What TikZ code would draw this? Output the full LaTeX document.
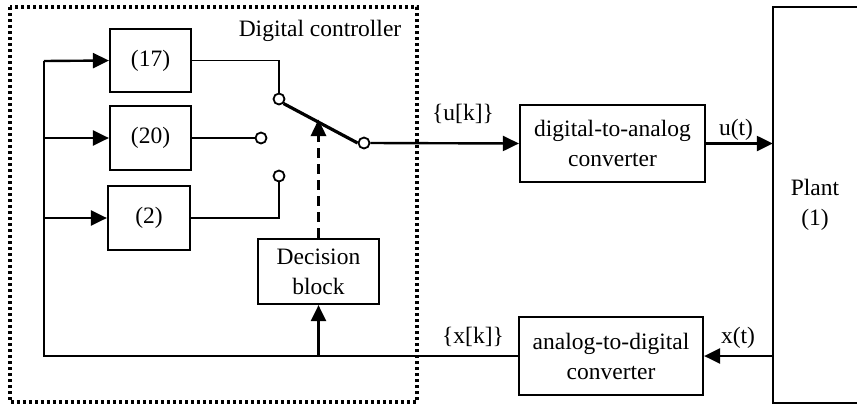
\documentclass[tikz,border=0pt]{standalone}
\usepackage{fontspec}
\setmainfont{Liberation Serif}
\usetikzlibrary{arrows.meta,calc}
\begin{document}
\begin{tikzpicture}[x=1pt,y=-1pt,
  font=\fontsize{23.5}{30}\selectfont,
  blk/.style={draw,line width=2.2pt,inner sep=0pt,align=center},
  wire/.style={line width=1.8pt},
  sig/.style={line width=2.4pt,-{Triangle[length=16pt,width=15pt]}},
  pin/.style={circle,draw,line width=1.8pt,fill=white,minimum size=11pt,inner sep=0pt},
  lbl/.style={anchor=base,inner sep=0pt}]
\useasboundingbox (0,0) rectangle (857,405);
% frame
\draw[line width=3.4pt,dash pattern=on 3.2pt off 2.8pt] (10,7) rectangle (417,402);
\node[lbl] (dctitle) at (320,36) {Digital controller};
% blocks
\node[blk,minimum width=81pt,minimum height=63pt] (b17) at (150.5,60.5) {(17)};
\node[blk,minimum width=81pt,minimum height=64pt] (b20) at (150.5,138) {(20)};
\node[blk,minimum width=82pt,minimum height=64pt] (b2) at (149,218) {(2)};
\node[blk,minimum width=121pt,minimum height=65pt] (dec) at (318.5,271.5) {Decision\\block};
\node[blk,minimum width=185pt,minimum height=77pt] (dac) at (612.5,143.5) {digital-to-analog\\converter};
\node[blk,minimum width=184pt,minimum height=78pt] (adc) at (611,356) {analog-to-digital\\converter};
\node[inner sep=0pt,minimum width=84pt,minimum height=396pt,align=center] (plant) at (815,205) {Plant\\(1)};
\draw[line width=2.2pt] (plant.north east) -- (plant.north west) -- (plant.south west) -- (plant.south east);
% bus
\coordinate (busT) at (44,61);
\coordinate (bus20) at (44,138);
\coordinate (bus2) at (44,218);
\coordinate (busB) at (44,356);
\coordinate (decin) at (dec.south |- busB);
\draw[line width=2.2pt] (busT) -- (busB) -- (adc.west);
\draw[sig] (busT) -- (b17.west);
\draw[sig] (bus20) -- (b20.west);
\draw[sig] (bus2) -- (b2.west);
\draw[sig] (decin) -- (dec.south);
% switch
\node[pin] (s17) at (279,99) {};
\node[pin] (s20) at (261,138) {};
\node[pin] (s2) at (279,176) {};
\node[pin] (sout) at (364,143) {};
\draw[wire] (b17.east) -- (s17.north |- b17.east) -- (s17.north);
\draw[wire] (b20.east) -- (s20.west);
\draw[wire] (b2.east) -- (s2.south |- b2.east) -- (s2.south);
\draw[line width=3.2pt] (s17.south east) -- (sout.west);
\coordinate (armpt) at ($(s17)!0.46!(sout)$);
\draw[line width=3.6pt,dash pattern=on 10pt off 6pt,-{Triangle[length=17pt,width=15pt]}] (dec.north) -- (dec.north |- armpt);
\draw[sig] (sout.east) -- (dac.west);
\node[lbl] (uk) at (463,120) {\{u[k]\}};
% plant links
\coordinate (pin1) at (plant.west |- dac.east);
\coordinate (pout) at (plant.west |- adc.east);
\draw[sig] (dac.east) -- (pin1);
\draw[sig] (pout) -- (adc.east);
\node[lbl] (ut) at (736,135) {u(t)};
\node[lbl] (xt) at (738,343) {x(t)};
\node[lbl] (xk) at (473,343) {\{x[k]\}};
\end{tikzpicture}
\end{document}
